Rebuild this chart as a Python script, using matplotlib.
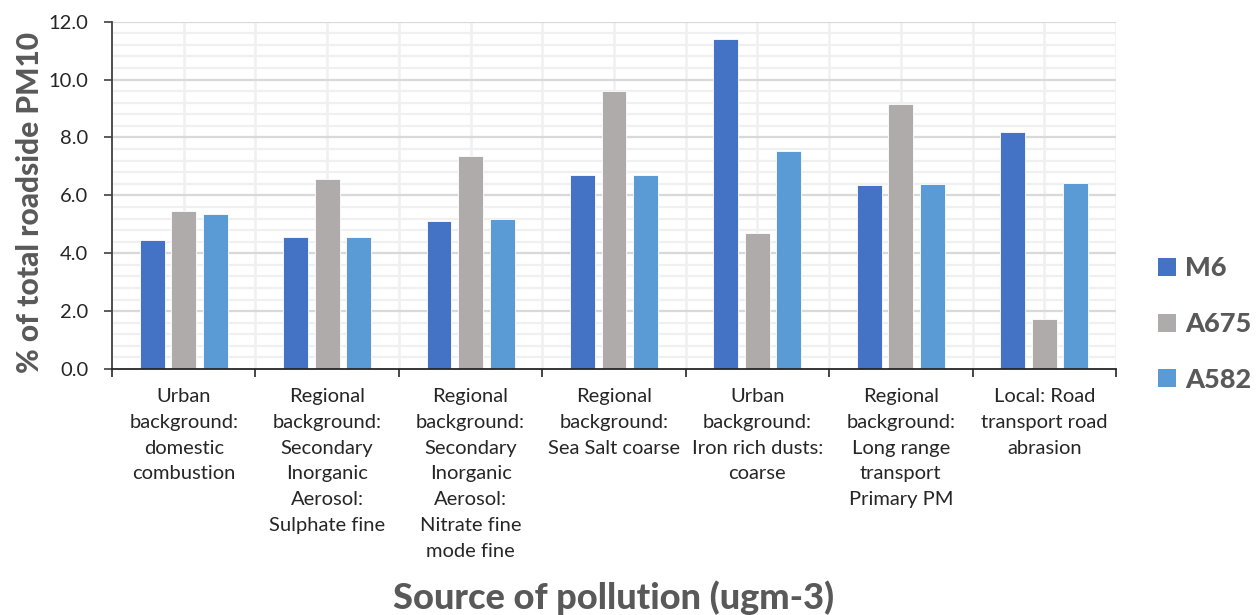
import matplotlib
matplotlib.use("Agg")
import matplotlib.pyplot as plt
import numpy as np
from matplotlib.patches import Patch

plt.rcParams['font.family'] = ['Lato', 'DejaVu Sans']

categories = [
    "Urban\nbackground:\ndomestic\ncombustion",
    "Regional\nbackground:\nSecondary\nInorganic\nAerosol:\nSulphate fine",
    "Regional\nbackground:\nSecondary\nInorganic\nAerosol:\nNitrate fine\nmode fine",
    "Regional\nbackground:\nSea Salt coarse",
    "Urban\nbackground:\nIron rich dusts:\ncoarse",
    "Regional\nbackground:\nLong range\ntransport\nPrimary PM",
    "Local: Road\ntransport road\nabrasion",
]
series_names = ["M6", "A675", "A582"]
m6 = [4.46, 4.57, 5.12, 6.70, 11.39, 6.35, 8.20]
a675 = [5.47, 6.58, 7.37, 9.62, 4.69, 9.15, 1.74]
a582 = [5.37, 4.57, 5.17, 6.70, 7.52, 6.39, 6.43]
y_ticks = [0.0, 2.0, 4.0, 6.0, 8.0, 10.0, 12.0]

colors = ["#4472C4", "#AFABAB", "#5B9BD5"]
values = [m6, a675, a582]

fig = plt.figure(figsize=(12.6, 6.15), dpi=100)
ax = fig.add_axes([0.0889, 0.40, 0.7968, 0.5647])

n = len(categories)
x = np.arange(n)
bar_w = 0.174
step = 0.22
for i, (vals, col) in enumerate(zip(values, colors)):
    ax.bar(x + (i - 1) * step, vals, width=bar_w, color=col,
           edgecolor="white", linewidth=0.6, zorder=3)

ax.set_xlim(-0.5, n - 0.5)
ax.set_ylim(0, 12)

# horizontal grid: major every 2, minor every 0.4
for yv in np.arange(0.4, 12.01, 0.4):
    if abs(yv / 2 - round(yv / 2)) < 1e-6:
        ax.axhline(yv, color="#D9D9D9", lw=1.6, zorder=1)
    else:
        ax.axhline(yv, color="#F0F0F0", lw=1.6, zorder=1)
# vertical grid at category centres and boundaries
for xv in np.arange(-0.5, n, 0.5):
    if xv > -0.5:
        ax.axvline(xv, color="#F0F0F0", lw=1.8, zorder=0.9)

ax.set_yticks(y_ticks)
ax.set_yticklabels([f"{v:.1f}" for v in y_ticks])
ax.set_xticks(np.arange(-0.5, n, 1.0))
ax.set_xticklabels([])
ax.set_xticks(x, minor=True)
ax.set_xticklabels(categories, minor=True, fontsize=14.5, color="#262626",
                   linespacing=1.62, va="top")
ax.tick_params(axis="x", which="minor", length=0, pad=14)
ax.tick_params(axis="x", which="major", length=6, width=1.2, color="#262626",
               direction="out")
ax.tick_params(axis="y", length=6, width=1.2, color="#404040", pad=11,
               labelsize=14.5, labelcolor="#262626")

for s in ["top", "right"]:
    ax.spines[s].set_visible(False)
ax.spines["left"].set_color("#404040")
ax.spines["left"].set_linewidth(1.3)
ax.spines["bottom"].set_color("#262626")
ax.spines["bottom"].set_linewidth(1.3)
ax.spines["left"].set_zorder(4)
ax.spines["bottom"].set_zorder(4)

fig.text(0.024, 0.67, "% of total roadside PM10", rotation=90,
         ha="center", va="center", fontsize=21.5, fontweight="black",
         color="#595959")
fig.text(0.487, 0.028, "Source of pollution (ugm-3)", ha="center",
         va="center", fontsize=26, fontweight="black", color="#595959")

handles = [Patch(facecolor=c, edgecolor="none") for c in colors]
leg = fig.legend(handles, series_names, loc="upper left",
                 bbox_to_anchor=(0.919, 0.583), frameon=False,
                 fontsize=19.5, handlelength=0.65, handleheight=0.65,
                 handletextpad=0.35, labelspacing=1.17, borderaxespad=0,
                 borderpad=0)
for t in leg.get_texts():
    t.set_fontweight("black")
    t.set_color("#595959")

fig.savefig("out.png", dpi=100, facecolor="white")
